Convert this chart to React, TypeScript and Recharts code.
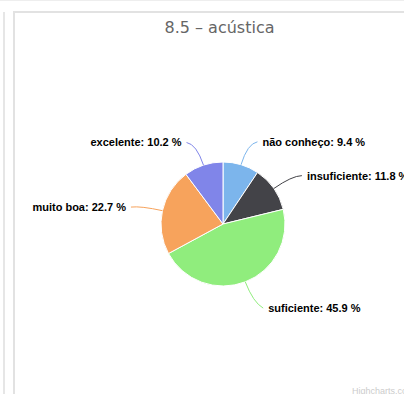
import React from 'react';
import { PieChart, Pie, Cell } from 'recharts';

const categories = ['não conheço', 'insuficiente', 'suficiente', 'muito boa', 'excelente'];
const shares = [9.4, 11.8, 45.9, 22.7, 10.2];
const colors = ['#7cb5ec', '#434348', '#90ed7d', '#f7a35c', '#8085e9'];

const data = categories.map((name, i) => ({ name, value: shares[i] }));

const RAD = Math.PI / 180;

// highcharts-style label: curved connector from the slice edge, then text beside it
const SliceLabel = (props: any) => {
  const { cx, cy, midAngle, outerRadius, name, value, index } = props;
  const cos = Math.cos(-midAngle * RAD);
  const sin = Math.sin(-midAngle * RAD);
  const right = cos >= 0;
  const sx = cx + outerRadius * cos;
  const sy = cy + outerRadius * sin;
  const mx = cx + (outerRadius + 22) * cos;
  const my = cy + (outerRadius + 22) * sin;
  const ex = mx + (right ? 10 : -10);
  const ey = my + 4 * sin + 2;
  return (
    <g>
      <path
        d={`M${sx},${sy} Q${mx},${my} ${ex},${ey}`}
        stroke={colors[index]}
        strokeWidth={1}
        fill="none"
      />
      <text
        x={ex + (right ? 5 : -5)}
        y={ey}
        textAnchor={right ? 'start' : 'end'}
        dominantBaseline="central"
        fontFamily="'Liberation Sans', Arial, sans-serif"
        fontSize={11}
        fontWeight="bold"
        fill="#000"
      >
        {`${name}: ${value} %`}
      </text>
    </g>
  );
};

export default function App() {
  return (
    <div style={{ position: 'absolute', left: 0, top: 0, width: 404, height: 394, background: '#fff', overflow: 'hidden' }}>
      <div style={{ position: 'absolute', left: 0, top: 0, width: 404, height: 1, background: '#eee' }} />
      <div style={{ position: 'absolute', left: 3, top: 12, width: 2, height: 382, background: '#e6e6e6' }} />
      <div style={{ position: 'absolute', left: 13, top: 11, width: 2, height: 383, background: '#e2e2e2' }} />
      <div style={{ position: 'absolute', left: 13, top: 11, width: 391, height: 2, background: '#e2e2e2' }} />
      <div
        style={{
          position: 'absolute',
          left: 15,
          top: 18,
          width: 409,
          textAlign: 'center',
          fontFamily: "'DejaVu Sans', sans-serif",
          fontSize: 16,
          color: '#666',
        }}
      >
        8.5 – acústica
      </div>
      <div style={{ position: 'absolute', left: 0, top: 0 }}>
        <PieChart width={404} height={394}>
          <Pie
            data={data}
            dataKey="value"
            nameKey="name"
            cx={218}
            cy={219}
            outerRadius={62}
            startAngle={90}
            endAngle={-270}
            stroke="#fff"
            strokeWidth={1}
            label={SliceLabel}
            labelLine={false}
            isAnimationActive={false}
          >
            {data.map((d, i) => (
              <Cell key={d.name} fill={colors[i]} />
            ))}
          </Pie>
        </PieChart>
      </div>
      <div
        style={{
          position: 'absolute',
          left: 352,
          top: 386,
          fontFamily: "'Liberation Sans', Arial, sans-serif",
          fontSize: 9,
          color: '#ccc',
          whiteSpace: 'nowrap',
        }}
      >
        Highcharts.com
      </div>
    </div>
  );
}
